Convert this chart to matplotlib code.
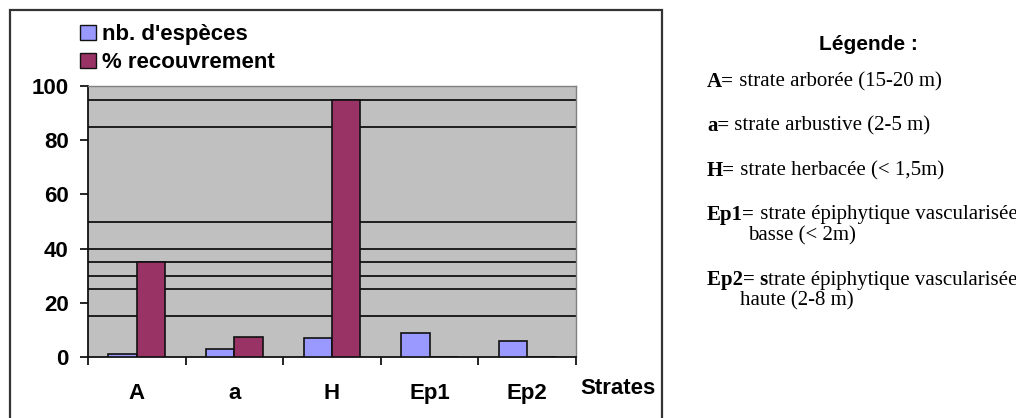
import matplotlib.pyplot as plt
from matplotlib.patches import Patch, Rectangle

# -----------------------------
# Données
# -----------------------------
strates = ["A", "a", "H", "Ep1", "Ep2"]
nb_especes = [1, 3, 7, 9, 6]
recouvrement = [35, 7.5, 95, 0, 0]
lignes = [15, 25, 30, 35, 40, 50, 85, 95]
graduations = [0, 20, 40, 60, 80, 100]

legende_titre = "Légende :"
legende_lignes = [
    ("A=", " strate arborée (15-20 m)", None),
    ("a=", " strate arbustive (2-5 m)", None),
    ("H=", " strate herbacée (< 1,5m)", None),
    ("Ep1=", " strate épiphytique vascularisée", "basse (< 2m)"),
    ("Ep2= s", "trate épiphytique vascularisée", "haute (2-8 m)"),
]

BLEU = "#9999ff"
BORDEAUX = "#993366"
FOND = "#c0c0c0"

plt.rcParams["font.family"] = ["Liberation Sans", "DejaVu Sans"]

fig = plt.figure(figsize=(10.16, 4.18), dpi=100)
W, H = 1016, 418

def fx(px):
    return px / W

def fy(py):
    return 1 - py / H

ax = fig.add_axes([fx(88), fy(357), fx(576) - fx(88), fy(86) - fy(357)])
ax.set_facecolor(FOND)

# lignes horizontales
for v in lignes:
    ax.axhline(v, color="#111111", lw=1.3, zorder=1)

x = list(range(len(strates)))
larg = 0.29
ax.bar([i - larg / 2 for i in x], nb_especes, width=larg, color=BLEU,
       edgecolor="#111111", linewidth=1.2, zorder=3)
ax.bar([i + larg / 2 for i in x], recouvrement, width=larg, color=BORDEAUX,
       edgecolor="#111111", linewidth=1.2, zorder=3)

ax.set_xlim(-0.5, len(strates) - 0.5)
ax.set_ylim(0, 100)
ax.set_yticks(graduations)
ax.set_yticklabels([str(g) for g in graduations], fontsize=16, fontweight="bold")
ax.set_xticks(x)
ax.set_xticklabels(strates, fontsize=16, fontweight="bold")
ax.set_xticks([i - 0.5 for i in range(len(strates) + 1)], minor=True)
ax.tick_params(axis="x", which="major", length=0, pad=19)
ax.tick_params(axis="x", which="minor", length=6, width=1.2, direction="out")
ax.tick_params(axis="y", length=6, width=1.2, direction="out", pad=8)

for s in ["left", "bottom"]:
    ax.spines[s].set_color("#111111")
    ax.spines[s].set_linewidth(1.3)
for s in ["top", "right"]:
    ax.spines[s].set_color("#808080")
    ax.spines[s].set_linewidth(1.0)

fig.text(fx(580), fy(388), "Strates", fontsize=16, fontweight="bold",
         ha="left", va="center")

handles = [Patch(facecolor=BLEU, edgecolor="#111111", lw=1),
           Patch(facecolor=BORDEAUX, edgecolor="#111111", lw=1)]
fig.legend(handles, ["nb. d'espèces", "% recouvrement"], loc="upper left",
           bbox_to_anchor=(fx(80), fy(24)), frameon=False, borderpad=0,
           borderaxespad=0, handlelength=0.7, handleheight=0.65,
           handletextpad=0.27, labelspacing=0.31,
           prop={"size": 16, "weight": "bold"})

# cadre du graphique
fig.patches.append(Rectangle((fx(10), fy(430)), fx(662) - fx(10), fy(10) - fy(430),
                             transform=fig.transFigure, fill=False,
                             edgecolor="#333333", lw=1.6))

# légende texte à droite
fig.text(fx(868), fy(45), legende_titre, fontsize=15, fontweight="bold",
         ha="center", va="center")
ys = [82, 126, 171, 215, 280]
for (gras, reste, suite), y in zip(legende_lignes, ys):
    t = fig.text(fx(707), fy(y), gras, family="Liberation Serif", fontsize=15,
                 fontweight="bold", ha="left", va="center")
    ax.annotate(reste, xy=(1, 0.5), xycoords=t, va="center", ha="left",
                family="Liberation Serif", fontsize=15, annotation_clip=False)
    if suite:
        x0 = 748 if gras == "Ep1=" else 740
        fig.text(fx(x0), fy(y + 21), suite, family="Liberation Serif",
                 fontsize=15, ha="left", va="center")

fig.savefig("out.png", dpi=100)
